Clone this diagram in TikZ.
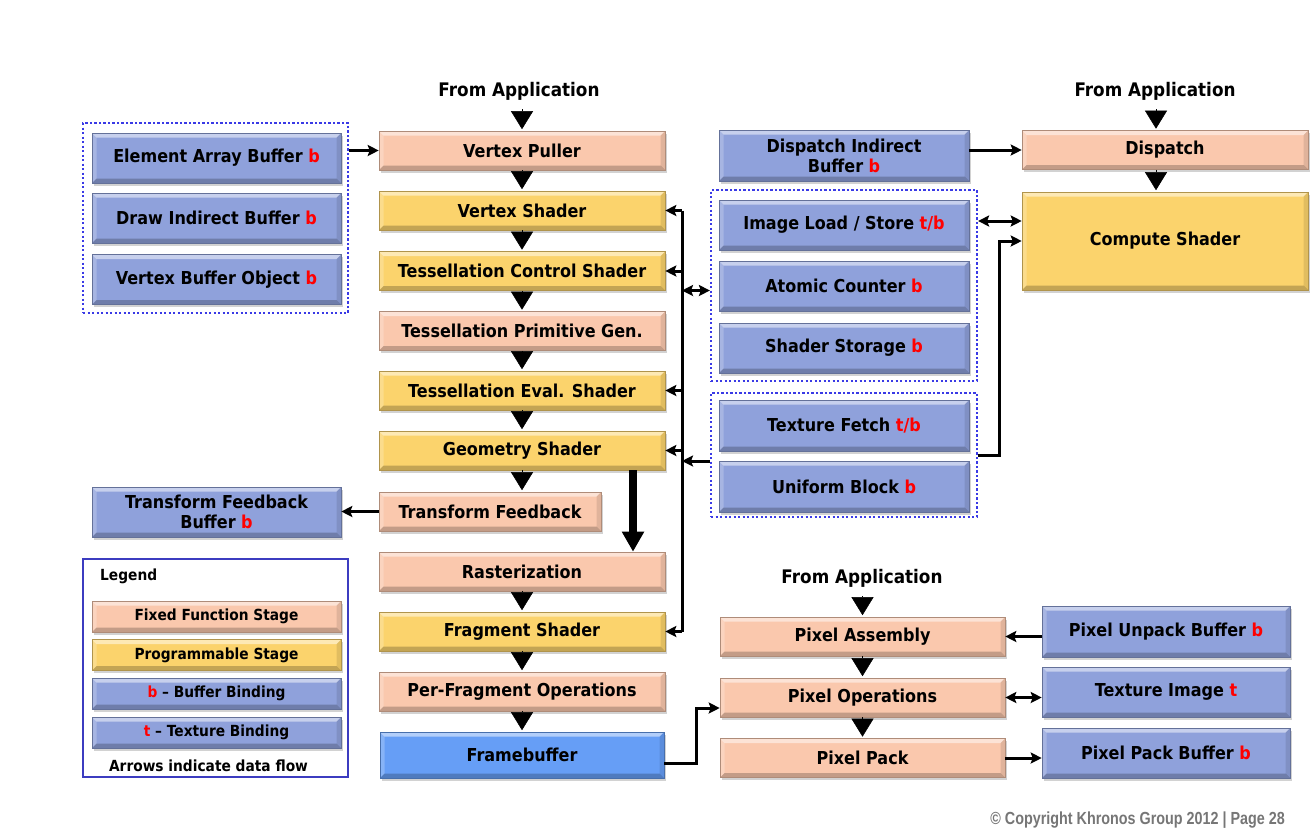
\documentclass[tikz,border=0pt]{standalone}
\usepackage{fontspec}
\setmainfont{DejaVu Sans}[FakeStretch=0.9]
\newfontfamily\cpyfont{Liberation Sans}[FakeStretch=0.82]
\usetikzlibrary{arrows.meta,shadows,calc}
\definecolor{ffs}{HTML}{FAC8AD}
\definecolor{prg}{HTML}{FBD36C}
\definecolor{buf}{HTML}{8FA1DB}
\definecolor{fbf}{HTML}{669EF6}
\definecolor{frm}{HTML}{3A3AE6}
\definecolor{lgd}{HTML}{3C3CC0}
\definecolor{bred}{HTML}{FF0000}
\definecolor{cpy}{HTML}{767676}
\newcommand\redt[1]{\textcolor{bred}{#1}}
\tikzset{
  base/.style={rectangle, inner sep=0pt, align=center, draw=#1!70!black, line width=0.6pt, fill=#1,
    drop shadow={opacity=0.35, shadow xshift=2pt, shadow yshift=-2.5pt},
    path picture={
      \fill[white,opacity=0.5] (path picture bounding box.north west) -- (path picture bounding box.north east) -- ([shift={(-4.5pt,-4.5pt)}]path picture bounding box.north east) -- ([shift={(4.5pt,-4.5pt)}]path picture bounding box.north west) -- cycle;
      \fill[white,opacity=0.22] (path picture bounding box.north west) -- ([shift={(4.5pt,-4.5pt)}]path picture bounding box.north west) -- ([shift={(4.5pt,4.5pt)}]path picture bounding box.south west) -- (path picture bounding box.south west) -- cycle;
      \fill[black,opacity=0.1] (path picture bounding box.north east) -- ([shift={(-4.5pt,-4.5pt)}]path picture bounding box.north east) -- ([shift={(-4.5pt,4.5pt)}]path picture bounding box.south east) -- (path picture bounding box.south east) -- cycle;
      \fill[black,opacity=0.22] (path picture bounding box.south west) -- ([shift={(4.5pt,4.5pt)}]path picture bounding box.south west) -- ([shift={(-4.5pt,4.5pt)}]path picture bounding box.south east) -- (path picture bounding box.south east) -- cycle;
    },
    font=\bfseries\fontsize{17.8}{20}\selectfont},
  ffsn/.style={base=ffs, minimum width=286pt, minimum height=39pt},
  prgn/.style={base=prg, minimum width=286pt, minimum height=39pt},
  bufn/.style={base=buf, minimum width=249pt, minimum height=50pt},
  pixn/.style={base=ffs, minimum width=285pt, minimum height=39pt},
  lgn/.style={minimum width=249pt, minimum height=31pt, font=\bfseries\fontsize{15.3}{17}\selectfont},
  dotfr/.style={draw=frm, line width=2.2pt, dash pattern=on 2.2pt off 2.3pt, inner sep=0pt},
  apptxt/.style={inner sep=0pt, font=\bfseries\fontsize{18.7}{20}\selectfont},
  ln/.style={line width=3pt},
  arr/.style={line width=3pt, -{Stealth[length=11pt,width=11pt,inset=2pt]}},
  darr/.style={line width=3pt, {Stealth[length=11pt,width=11pt,inset=2pt]}-{Stealth[length=11pt,width=11pt,inset=2pt]}},
  tri/.style={line width=0.5pt, -{Triangle[length=18pt,width=22pt]}, shorten >=1.5pt},
  thk/.style={line width=7.5pt, -{Triangle[length=20pt,width=21pt]}},
}
\begin{document}
\begin{tikzpicture}[x=1pt,y=-1pt]
\fill[white] (0,0) rectangle (1314,831);
\useasboundingbox (0,0) rectangle (1314,831);

% frames
\node[dotfr, minimum width=265pt, minimum height=190pt] (fr1) at (215.5,218) {};
\node[dotfr, minimum width=266pt, minimum height=191pt] (fr2) at (844,285.5) {};
\node[dotfr, minimum width=266pt, minimum height=124pt] (fr3) at (844,455) {};
\node[draw=lgd, line width=2pt, inner sep=0pt, minimum width=265pt, minimum height=218pt] (lgf) at (215.5,668) {};

% main column
\node[apptxt] (FA1) at (519,91) {From Application};
\node[ffsn] (VP) at (522,150.5) {Vertex Puller};
\node[prgn] (VS) at (522,210.5) {Vertex Shader};
\node[prgn] (TCS) at (522,271) {Tessellation Control Shader};
\node[ffsn] (TPG) at (522,331) {Tessellation Primitive Gen.};
\node[prgn] (TES) at (522,390.5) {Tessellation Eval. Shader};
\node[prgn] (GS) at (522,450.5) {Geometry Shader};
\node[ffsn, minimum width=222pt] (TF) at (490,511.5) {Transform Feedback};
\node[ffsn] (Rast) at (522,571.5) {Rasterization};
\node[prgn] (Frag) at (522,631.5) {Fragment Shader};
\node[ffsn] (PFO) at (522,691.5) {Per-Fragment Operations};
\node[base=fbf, minimum width=284pt, minimum height=46pt] (FB) at (522,755) {Framebuffer};

% left buffers
\node[bufn] (EAB) at (216.5,158) {Element Array Buffer \redt{b}};
\node[bufn] (DRB) at (216.5,218) {Draw Indirect Buffer \redt{b}};
\node[bufn] (VBO) at (216.5,279.5) {Vertex Buffer Object \redt{b}};
\node[bufn] (TFB) at (216.5,512) {Transform Feedback\\Buffer \redt{b}};

% legend
\node[anchor=west, inner sep=0pt, font=\bfseries\fontsize{15.3}{17}\selectfont] (LGT) at (100,576) {Legend};
\node[base=ffs, lgn] (LG1) at (216.5,616.5) {Fixed Function Stage};
\node[base=prg, lgn] (LG2) at (216.5,655) {Programmable Stage};
\node[base=buf, lgn] (LG3) at (216.5,693.5) {\redt{b} -- Buffer Binding};
\node[base=buf, lgn] (LG4) at (216.5,732.5) {\redt{t} -- Texture Binding};
\node[inner sep=0pt, font=\bfseries\fontsize{15.3}{17}\selectfont] (LGA) at (208.5,766) {Arrows indicate data flow};

% right column
\node[base=buf, minimum width=250pt, minimum height=51pt] (DIB) at (844,155.5) {Dispatch Indirect\\Buffer \redt{b}};
\node[base=buf, minimum width=250pt, minimum height=50pt] (ILS) at (844,225) {Image Load / Store \redt{t/b}};
\node[base=buf, minimum width=250pt, minimum height=50pt] (AC) at (844,286) {Atomic Counter \redt{b}};
\node[base=buf, minimum width=250pt, minimum height=50pt] (SS) at (844,348) {Shader Storage \redt{b}};
\node[base=buf, minimum width=250pt, minimum height=51pt] (TXF) at (844,425.5) {Texture Fetch \redt{t/b}};
\node[base=buf, minimum width=250pt, minimum height=51pt] (UB) at (844,486.5) {Uniform Block \redt{b}};

% compute
\node[apptxt] (FA2) at (1155,91) {From Application};
\node[ffsn] (DSP) at (1165,150) {Dispatch};
\node[prgn, minimum height=98pt] (CS) at (1165,241) {Compute Shader};

% pixel path
\node[apptxt] (FA3) at (862,578) {From Application};
\node[pixn] (PA) at (862.5,636.5) {Pixel Assembly};
\node[pixn] (PO) at (862.5,697.5) {Pixel Operations};
\node[pixn] (PP) at (862.5,758) {Pixel Pack};
\node[base=buf, minimum width=248pt, minimum height=51pt] (PUB) at (1166,631.5) {Pixel Unpack Buffer \redt{b}};
\node[base=buf, minimum width=248pt, minimum height=50pt] (TI) at (1166,692) {Texture Image \redt{t}};
\node[base=buf, minimum width=248pt, minimum height=50pt] (PPB) at (1166,753) {Pixel Pack Buffer \redt{b}};

% copyright
\node[anchor=east, inner sep=0pt, text=cpy, font=\cpyfont\bfseries\fontsize{17.5}{19}\selectfont] (CPY) at (1285,820) {© Copyright Khronos Group 2012 | Page 28};

% pipeline triangles
\draw[tri, shorten <=9pt] (VP.north |- FA1.south) -- (VP.north);
\draw[tri] (VP.south) -- (VS.north);
\draw[tri] (VS.south) -- (TCS.north);
\draw[tri] (TCS.south) -- (TPG.north);
\draw[tri] (TPG.south) -- (TES.north);
\draw[tri] (TES.south) -- (GS.north);
\draw[tri] (GS.south) -- (GS.south |- TF.north);
\draw[tri] (Rast.south) -- (Frag.north);
\draw[tri] (Frag.south) -- (PFO.north);
\draw[tri] (PFO.south) -- (FB.north);
\coordinate (tx2) at (1156,0);
\draw[tri, shorten <=9pt] (tx2 |- FA2.south) -- (tx2 |- DSP.north);
\draw[tri] (tx2 |- DSP.south) -- (tx2 |- CS.north);
\draw[tri, shorten <=9pt] (PA.north |- FA3.south) -- (PA.north);
\draw[tri] (PA.south) -- (PO.north);
\draw[tri] (PO.south) -- (PP.north);

% thick arrow geometry -> rasterization
\coordinate (thx) at (633,0);
\draw[thk] (thx |- GS.south) -- (thx |- Rast.north);

% other connectors
\draw[arr] (VP.west -| fr1.east) -- (VP.west);
\draw[arr] (TF.west) -- (TF.west -| TFB.east);
\coordinate (busx) at (682,0);
\draw[ln] (busx |- VS.east) -- (busx |- Frag.east);
\foreach \n in {VS,TCS,TES,GS,Frag} \draw[arr] (busx |- \n.east) -- (\n.east);
\path ([yshift=-5pt]fr2.west) coordinate (f2w);
\draw[darr] (f2w) -- (f2w -| busx);
\path ([yshift=-6pt]fr3.west) coordinate (f3w);
\draw[arr] (f3w) -- (f3w -| busx);
\draw[arr] (fr3.east) -- ++(21pt,0) |- (CS.west);
\path ([yshift=4pt]ILS.east) coordinate (ile);
\draw[darr] (ile -| fr2.east) -- (ile -| CS.west);
\draw[arr] (DSP.west -| DIB.east) -- (DSP.west);
\draw[arr] ([yshift=-8pt]FB.east) -- ++(32pt,0) |- ([yshift=-10.5pt]PO.west);
\draw[arr] (PUB.west |- PA.east) -- (PA.east);
\draw[darr] (PO.east) -- (PO.east -| TI.west);
\draw[arr] (PP.east) -- (PP.east -| PPB.west);
\end{tikzpicture}
\end{document}
